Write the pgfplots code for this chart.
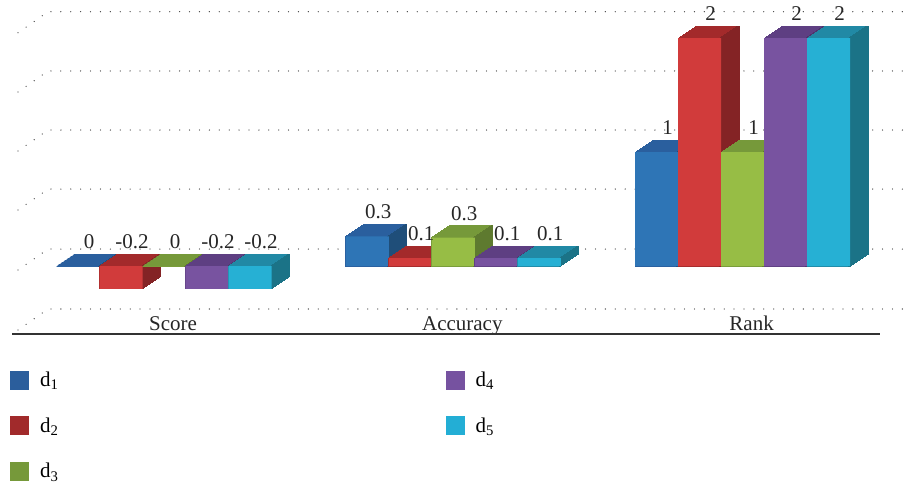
\documentclass[border=0pt]{standalone}
\usepackage{pgfplots}
\usepackage{pgfplotstable}
\pgfplotsset{compat=1.18}
\usepackage{fontspec}
\setmainfont{Liberation Serif}

\definecolor{fA}{HTML}{2E75B6}\definecolor{tA}{HTML}{2A5F9E}\definecolor{sA}{HTML}{1F4E79}\definecolor{lA}{HTML}{2B5E9C}
\definecolor{fB}{HTML}{D13B3B}\definecolor{tB}{HTML}{A32A2B}\definecolor{sB}{HTML}{842325}\definecolor{lB}{HTML}{A12A2B}
\definecolor{fC}{HTML}{97BD45}\definecolor{tC}{HTML}{76993A}\definecolor{sC}{HTML}{5E7A2F}\definecolor{lC}{HTML}{76993A}
\definecolor{fD}{HTML}{7853A0}\definecolor{tD}{HTML}{5E3F82}\definecolor{sD}{HTML}{4E346C}\definecolor{lD}{HTML}{7652A0}
\definecolor{fE}{HTML}{26B0D4}\definecolor{tE}{HTML}{2189A5}\definecolor{sE}{HTML}{1B7387}\definecolor{lE}{HTML}{23AED5}

\newcount\extk
\pgfplotsset{extrude/.code={%
  \extk=1\relax
  \loop
    \edef\exttmp{\noexpand\pgfkeysalso{/tikz/preaction={fill=#1,draw=#1,line width=0.8pt,transform canvas={shift={(\the\extk pt,\the\dimexpr 0.6667pt*\extk\relax)}}}}}%
    \exttmp
    \advance\extk by 1\relax
  \ifnum\extk<19 \repeat}}

% bar values
\pgfplotstableread{
x d1 d2 d3 d4 d5
0 0 -0.2 0 -0.2 -0.2
1 0.26 0.07 0.25 0.07 0.07
2 1 2 1 2 2
}\datatable

% label positions and texts
\pgfplotstableread{
x y1 t1 y2 t2 y3 t3 y4 t4 y5 t5
0 0 0 0 -0.2 0 0 0 -0.2 0 -0.2
1 0.26 0.3 0.07 0.1 0.25 0.3 0.07 0.1 0.07 0.1
2 1 1 2 2 1 1 2 2 2 2
}\labtable

\newcommand{\fs}{\fontsize{21}{24}\selectfont}

\begin{document}
\begin{tikzpicture}
\useasboundingbox (0,0) rectangle (908pt,488pt);
\begin{axis}[
  at={(9pt,153pt)}, anchor=south west,
  x=289.3pt, y=114pt,
  xmin=-0.536, xmax=2.568, ymin=-0.605, ymax=2.333,
  ybar, clip=false,
  axis line style={draw=none},
  major tick length=0pt,
  ytick=\empty,
  xtick={0.031,1.031,2.031},
  xticklabels={Score,Accuracy,Rank},
  xticklabel style={font=\fs, anchor=base, yshift=5pt, text=black!85},
  every node near coord/.append style={font=\fs, anchor=south, xshift=11pt, yshift=17pt, inner sep=0pt, text=black!85},
  legend style={draw=none, fill=none, at={(axis description cs:0,0)}, anchor=north west,
    xshift=-2pt, yshift=-33pt, font=\fs, row sep=25.5pt,
    /tikz/every odd column/.append style={column sep=9pt},
    /tikz/every even column/.append style={column sep=385pt}},
  legend columns=3, transpose legend, legend cell align=left,
]
% back-wall dotted grid
\pgfplotsset{gridline/.style={forget plot, sharp plot, no marks, black!75, line width=1.3pt, line cap=round, dash pattern=on 0pt off 9.9pt}}
\addplot[gridline] coordinates {(-0.505,2.046) (-0.401,2.231) (2.565,2.231)};
\addplot[gridline] coordinates {(-0.505,1.526) (-0.401,1.711) (2.565,1.711)};
\addplot[gridline] coordinates {(-0.505,1.009) (-0.401,1.193) (2.565,1.193)};
\addplot[gridline] coordinates {(-0.505,0.491) (-0.401,0.675) (2.565,0.675)};
\addplot[gridline] coordinates {(-0.505,-0.035) (-0.401,0.149) (2.565,0.149)};
\addplot[gridline] coordinates {(-0.505,-0.561) (-0.401,-0.377) (2.565,-0.377)};
% floor line
\addplot[forget plot, sharp plot, no marks, black!80, line width=1.6pt] coordinates {(-0.525,-0.598) (2.475,-0.598)};

% d1
\addplot[forget plot, bar shift=-86pt, bar width=43pt, fill=tA, draw=tA, line width=0.8pt, extrude=tA] table[x=x,y=d1]{\datatable};
\addplot[forget plot, bar shift=-65.25pt, bar width=1.5pt, fill=sA, draw=sA, line width=0.8pt, extrude=sA] table[x=x,y=d1]{\datatable};
\addplot[bar shift=-86pt, bar width=43pt, fill=fA, draw=none, legend image code/.code={\fill[lA] (0pt,-9.5pt) rectangle (19pt,9.5pt);}] table[x=x,y=d1]{\datatable};
% d2
\addplot[forget plot, bar shift=-43pt, bar width=43pt, fill=tB, draw=tB, line width=0.8pt, extrude=tB] table[x=x,y=d2]{\datatable};
\addplot[forget plot, bar shift=-22.25pt, bar width=1.5pt, fill=sB, draw=sB, line width=0.8pt, extrude=sB] table[x=x,y=d2]{\datatable};
\addplot[bar shift=-43pt, bar width=43pt, fill=fB, draw=none, legend image code/.code={\fill[lB] (0pt,-9.5pt) rectangle (19pt,9.5pt);}] table[x=x,y=d2]{\datatable};
% d3
\addplot[forget plot, bar shift=0pt, bar width=43pt, fill=tC, draw=tC, line width=0.8pt, extrude=tC] table[x=x,y=d3]{\datatable};
\addplot[forget plot, bar shift=20.75pt, bar width=1.5pt, fill=sC, draw=sC, line width=0.8pt, extrude=sC] table[x=x,y=d3]{\datatable};
\addplot[bar shift=0pt, bar width=43pt, fill=fC, draw=none, legend image code/.code={\fill[lC] (0pt,-9.5pt) rectangle (19pt,9.5pt);}] table[x=x,y=d3]{\datatable};
% d4
\addplot[forget plot, bar shift=43pt, bar width=43pt, fill=tD, draw=tD, line width=0.8pt, extrude=tD] table[x=x,y=d4]{\datatable};
\addplot[forget plot, bar shift=63.75pt, bar width=1.5pt, fill=sD, draw=sD, line width=0.8pt, extrude=sD] table[x=x,y=d4]{\datatable};
\addplot[bar shift=43pt, bar width=43pt, fill=fD, draw=none, legend image code/.code={\fill[lD] (0pt,-9.5pt) rectangle (19pt,9.5pt);}] table[x=x,y=d4]{\datatable};
% d5
\addplot[forget plot, bar shift=86pt, bar width=43pt, fill=tE, draw=tE, line width=0.8pt, extrude=tE] table[x=x,y=d5]{\datatable};
\addplot[forget plot, bar shift=106.75pt, bar width=1.5pt, fill=sE, draw=sE, line width=0.8pt, extrude=sE] table[x=x,y=d5]{\datatable};
\addplot[bar shift=86pt, bar width=43pt, fill=fE, draw=none, legend image code/.code={\fill[lE] (0pt,-9.5pt) rectangle (19pt,9.5pt);}] table[x=x,y=d5]{\datatable};

% value labels
\addplot[forget plot, bar shift=-86pt, bar width=43pt, draw=none, fill=none, point meta=explicit symbolic, nodes near coords] table[x=x,y=y1,meta=t1]{\labtable};
\addplot[forget plot, bar shift=-43pt, bar width=43pt, draw=none, fill=none, point meta=explicit symbolic, nodes near coords] table[x=x,y=y2,meta=t2]{\labtable};
\addplot[forget plot, bar shift=0pt, bar width=43pt, draw=none, fill=none, point meta=explicit symbolic, nodes near coords] table[x=x,y=y3,meta=t3]{\labtable};
\addplot[forget plot, bar shift=43pt, bar width=43pt, draw=none, fill=none, point meta=explicit symbolic, nodes near coords] table[x=x,y=y4,meta=t4]{\labtable};
\addplot[forget plot, bar shift=86pt, bar width=43pt, draw=none, fill=none, point meta=explicit symbolic, nodes near coords] table[x=x,y=y5,meta=t5]{\labtable};

\legend{d\textsubscript{1},d\textsubscript{2},d\textsubscript{3},d\textsubscript{4},d\textsubscript{5}}
\end{axis}
\end{tikzpicture}
\end{document}
